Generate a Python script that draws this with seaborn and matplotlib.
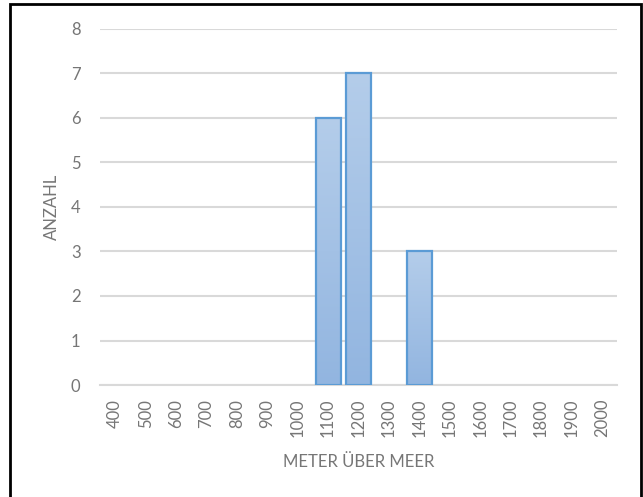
import matplotlib
matplotlib.use("Agg")
import matplotlib.pyplot as plt
import numpy as np
import pandas as pd
import seaborn as sns
from matplotlib.patches import Rectangle
from matplotlib.colors import LinearSegmentedColormap

# Altitude classes (metres above sea level) and number of sites per class
hoehen = ["400", "500", "600", "700", "800", "900", "1000", "1100", "1200",
          "1300", "1400", "1500", "1600", "1700", "1800", "1900", "2000"]
anzahl = [0, 0, 0, 0, 0, 0, 0, 6, 7, 0, 3, 0, 0, 0, 0, 0, 0]

df = pd.DataFrame({"hoehe": hoehen, "anzahl": anzahl})

sns.set_theme(style="white")
plt.rcParams["font.family"] = ["Lato", "DejaVu Sans"]

TEXT = "#767676"
GRID = "#d9d9d9"
EDGE = "#5b9bd5"

fig = plt.figure(figsize=(6.43, 4.97), dpi=100)
ax = fig.add_axes([100 / 643, 1 - 385 / 497, 517 / 643, 356 / 497])

sns.barplot(data=df, x="hoehe", y="anzahl", order=hoehen, color=EDGE,
            width=0.82, ax=ax, zorder=3)

ax.set_ylim(0, 8)
ax.set_xlim(-0.5, len(hoehen) - 0.5)
ax.set_yticks(range(0, 9))
ax.yaxis.grid(True, color=GRID, linewidth=1.5, zorder=0)
ax.set_axisbelow(True)
for side in ["top", "right", "left"]:
    ax.spines[side].set_visible(False)
ax.spines["bottom"].set_color(GRID)
ax.spines["bottom"].set_linewidth(1.5)

ax.tick_params(axis="y", length=0, pad=14, labelsize=12, labelcolor=TEXT)
ax.tick_params(axis="x", length=0, pad=10, labelsize=12, labelcolor=TEXT,
               labelrotation=90)

ax.set_xlabel("METER ÜBER MEER", fontsize=12, color=TEXT, labelpad=12)
ax.set_ylabel("ANZAHL", fontsize=12, color=TEXT, labelpad=8)

# Vertical gradient fill (lighter at the top) with a solid blue outline
cmap = LinearSegmentedColormap.from_list("blau", ["#92b5e0", "#b4cdea"])
grad = np.linspace(0, 1, 256).reshape(-1, 1)
for p in list(ax.patches):
    h = p.get_height()
    if h <= 0:
        p.set_visible(False)
        continue
    x0 = p.get_x()
    w = p.get_width()
    im = ax.imshow(grad, cmap=cmap, aspect="auto", origin="lower",
                   extent=(x0, x0 + w, 0, h), zorder=2.5,
                   interpolation="bilinear")
    im.set_clip_path(p)
    p.set_facecolor("none")
    p.set_edgecolor(EDGE)
    p.set_linewidth(1.6)
ax.set_xlim(-0.5, len(hoehen) - 0.5)
ax.set_ylim(0, 8)

# Black frame around the chart area
fig.patches.append(Rectangle((10 / 643, -0.02), 631 / 643, 1 - 4 / 497 + 0.02,
                             transform=fig.transFigure, fill=False,
                             edgecolor="black", linewidth=2, zorder=10))

fig.savefig("out.png", dpi=100, facecolor="white")
